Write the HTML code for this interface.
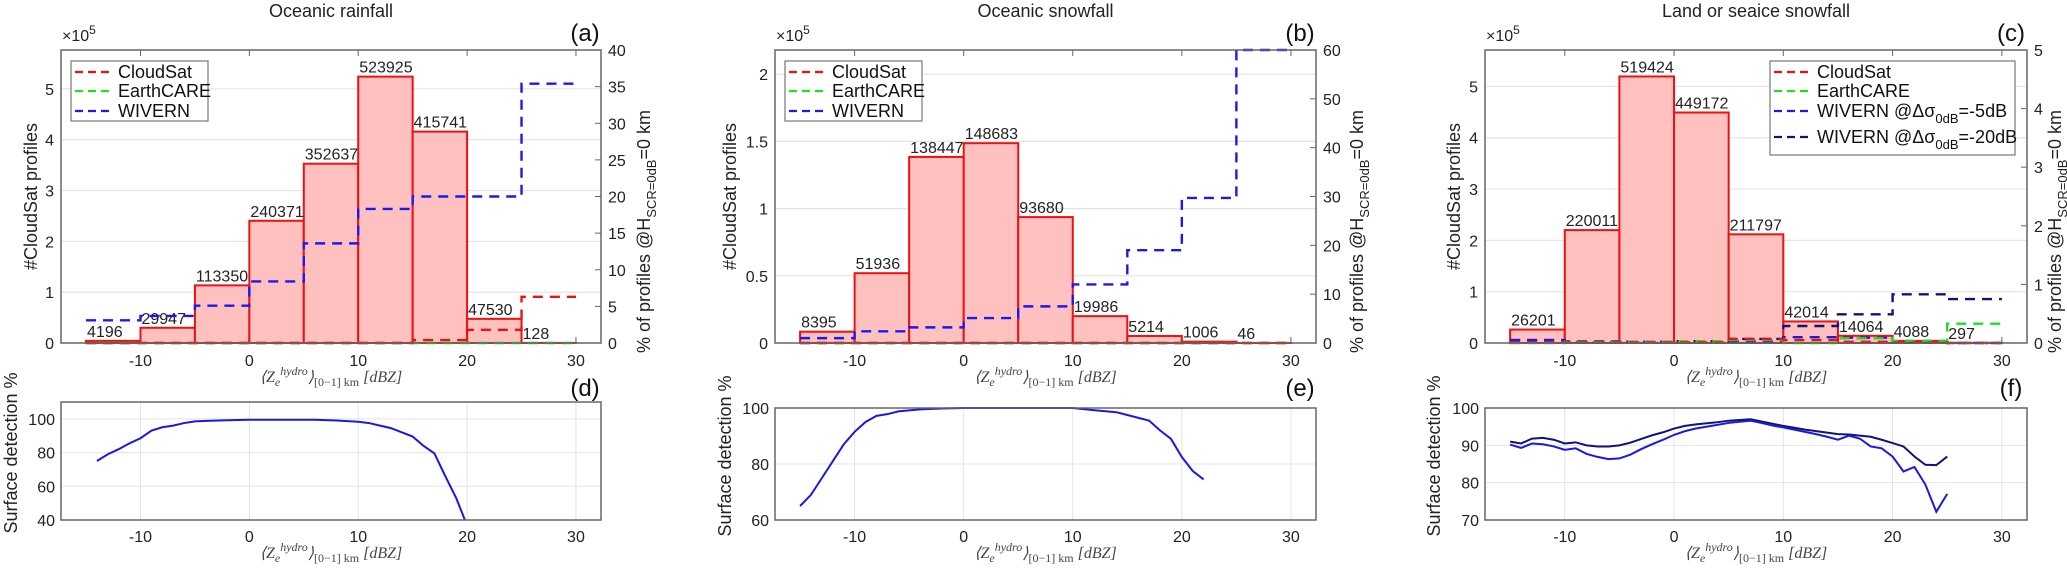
<!DOCTYPE html>
<html><head><meta charset="utf-8">
<style>
html,body{margin:0;padding:0;background:#fff;}
svg{display:block;font-family:"Liberation Sans",sans-serif;}
.t{font-size:16px;fill:#222;}
.ttl{font-size:18px;fill:#222;}
.lg{font-size:18px;fill:#111;}
.lab{font-size:24px;fill:#111;}
.xl{font-family:"Liberation Serif",serif;font-style:italic;font-size:16px;fill:#444;}
</style></head>
<body>
<svg id="fig" width="2067" height="568" viewBox="0 0 2067 568" xmlns="http://www.w3.org/2000/svg"></svg>
<script>
// ---------- DATA ----------
const binEdges = [-15,-10,-5,0,5,10,15,20,25,30];
const countsA = [4196,29947,113350,240371,352637,523925,415741,47530,128];
const countsB = [8395,51936,138447,148683,93680,19986,5214,1006,46];
const countsC = [26201,220011,519424,449172,211797,42014,14064,4088,297];
const wivernA = [3.1,3.7,5.1,8.4,13.6,18.3,20,20,35.4];
const cloudsatA = [0,0,0,0,0,0,0.4,1.8,6.3];
const earthcareA = [0,0,0,0,0,0,0,0,0];
const wivernB = [1.0,2.4,3.2,5.1,7.5,12,19,29.7,60];
const cloudsatB = [0,0,0,0,0,0,0,0,0];
const earthcareB = [0,0,0,0,0,0,0,0,0];
const wivern5C = [0.05,0.03,0.02,0.02,0.03,0.1,0.09,0.01,0];
const wivern20C = [0.05,0.01,0.02,0.03,0.07,0.29,0.49,0.83,0.75];
const cloudsatC = [0.01,0.01,0.01,0.01,0.07,0.05,0.02,0.01,0];
const earthcareC = [0,0.02,0.02,0.03,0.05,0.0,0.08,0.04,0.33];
const detXD = [-14,-13,-12,-11,-10,-9,-8,-7,-6,-5,-4,-2,0,2,4,6,8,10,11,12,13,14,15,16,17,18,19,19.8];
const detYD = [75,79,82,85.5,88.5,93,95,96,97.5,98.5,98.8,99.2,99.5,99.5,99.5,99.5,99,98.3,97.5,96,94.5,92,89.5,84,79.5,66,53,40];
const detXE = [-15,-14,-13,-12,-11,-10,-9,-8,-7,-6,-4,-2,0,5,10,11,12,14,15,17,18,19,20,21,22];
const detYE = [65,69,75,81,87,91.5,95,97.2,97.8,98.8,99.5,99.8,100,100,100,99.6,99.2,98.5,97.5,95.5,92,89,82.5,77.5,74.5];
const detXF = [-15,-14,-13,-12,-11,-10,-9,-8,-7,-6,-5,-4,-3,-2,-1,0,1,2,3,4,5,6,7,8,9,10,11,12,13,14,15,16,17,18,19,20,21,22,23,24,25];
const detF20 = [91,90.5,91.8,92,91.5,90.5,90.8,90,89.7,89.7,90,90.7,91.7,92.7,93.5,94.5,95.2,95.6,95.9,96.2,96.6,96.8,97,96.4,95.8,95.2,94.7,94.2,93.8,93.4,93,92.9,92.6,92.3,91.5,90.6,89.7,87,84.8,84.7,87];
const detF5 = [90.2,89.3,90.5,90.3,89.7,88.8,89.2,87.7,86.9,86.3,86.5,87.5,89,90.3,91.5,92.8,93.8,94.5,95,95.5,96,96.3,96.6,96,95.3,94.8,94.2,93.6,93,92.3,91.5,92.6,91.8,89.7,89.2,87,83,84.2,79.5,72.2,77];
const xTicks = [-10,0,10,20,30];
const yTicksA = [0,1,2,3,4,5];
const yTicksB = [0,0.5,1,1.5,2];
const yTicksC = [0,1,2,3,4,5];
const rTicksA = [0,5,10,15,20,25,30,35,40];
const rTicksB = [0,10,20,30,40,50,60];
const rTicksC = [0,1,2,3,4,5];
const dTicksD = [40,60,80,100];
const dTicksE = [60,80,100];
const dTicksF = [70,80,90,100];

// ---------- DRAW ----------
const NS="http://www.w3.org/2000/svg";
const svg=document.getElementById('fig');
function mk(tag,attrs,parent,text){
  const e=document.createElementNS(NS,tag);
  for(const k in attrs)e.setAttribute(k,attrs[k]);
  if(text!==undefined)e.textContent=text;
  (parent||svg).appendChild(e);return e;
}
const XMIN=-17.3,XMAX=32.3;
function xlabel(g,cx,y){
  const t=mk('text',{x:cx,y:y,'text-anchor':'middle',class:'xl'},g);
  
  
  t.innerHTML='⟨Z<tspan dy="4" font-size="12">e</tspan><tspan dy="-11" font-size="12">hydro</tspan><tspan dy="7">⟩</tspan><tspan dy="4" font-size="12" font-style="normal">[0−1] km</tspan><tspan dy="-4"> [dBZ]</tspan>';
}
function panel(p){
  const g=mk('g',{});
  
  
  const L=p.left,R=p.right,T=50,B=343;
  const sx=v=>L+(v-XMIN)/(XMAX-XMIN)*(R-L);
  const sy=v=>B-v/p.ymax*(B-T);
  const sr=v=>B-v/p.rmax*(B-T);
  const cx=(L+R)/2;
  const tt=mk('text',{x:cx,y:17,'text-anchor':'middle',class:'ttl'},g,p.title);
  
  
  p.yt.forEach(v=>{mk('line',{x1:L,x2:R,y1:sy(v),y2:sy(v),stroke:'#e4e4e4','stroke-width':1.2},g);
    const t=mk('text',{x:L-7,y:sy(v)+6,'text-anchor':'end',class:'t'},g,String(v));
    });
  p.rt.forEach(v=>{mk('line',{x1:R,x2:R-6,y1:sr(v),y2:sr(v),stroke:'#666'},g);
    const t=mk('text',{x:R+7,y:sr(v)+6,class:'t'},g,String(v));
    });
  xTicks.forEach(v=>{mk('line',{x1:sx(v),x2:sx(v),y1:T,y2:T+6,stroke:'#666'},g);mk('line',{x1:sx(v),x2:sx(v),y1:B,y2:B-6,stroke:'#666'},g);
    const t=mk('text',{x:sx(v),y:B+23,'text-anchor':'middle',class:'t'},g,String(v));
    });
  p.counts.forEach((c,i)=>{
    const x0=sx(binEdges[i]),x1=sx(binEdges[i+1]),y=sy(c/1e5);
    const r=mk('rect',{x:x0,y:y,width:x1-x0,height:B-y,fill:'#ffc0c0',stroke:'#ee1111','stroke-width':2},g);
    
    const t=mk('text',{x:x0+1,y:y-4,class:'t'},g,String(c));
    
  });
  p.series.forEach(s=>{
    let d='';
    s.vals.forEach((v,i)=>{const x0=sx(binEdges[i]),x1=sx(binEdges[i+1]),y=sr(v);d+=(i?'L':'M')+x0+' '+y+'L'+x1+' '+y;});
    const pa=mk('path',{d:d,fill:'none',stroke:s.color,'stroke-width':2.4,'stroke-dasharray':'10,7'},g);
    
  });
  mk('rect',{x:L,y:T,width:R-L,height:B-T,fill:'none',stroke:'#666','stroke-width':1.5},g);
  const sc=mk('text',{x:L+1,y:T-9,class:'t'},g);sc.innerHTML='×10<tspan dy="-7" font-size="12">5</tspan>';
  
  const pl=mk('text',{x:R-16,y:41,'text-anchor':'middle',class:'lab'},g,'('+p.id+')');
  
  const yl=mk('text',{transform:`translate(${p.ylx},${(T+B)/2}) rotate(-90)`,'text-anchor':'middle',class:'ttl'},g,'#CloudSat profiles');
  
  const rl=mk('text',{transform:`translate(${p.rlx},${(T+B)/2+35}) rotate(-90)`,'text-anchor':'middle',class:'ttl'},g);
  rl.innerHTML='% of profiles @H<tspan dy="6" font-size="13">SCR=0dB</tspan><tspan dy="-6">=0 km</tspan>';
  
  xlabel(g,cx,382);
  const lg=mk('g',{},g);
  
  mk('rect',{x:p.lx,y:61,width:p.lw,height:p.series.length>3?94:60,fill:'#fff',stroke:'#777','stroke-width':1.2},lg);
  const ys=[72,91,111,137];
  p.series.slice().reverse().forEach((s,i)=>{
    const y=ys[i];
    mk('line',{x1:p.lx+4,x2:p.lx+43,y1:y,y2:y,stroke:s.color,'stroke-width':2.2,'stroke-dasharray':'8,5'},lg);
    const t=mk('text',{x:p.lx+47,y:y+6,class:'lg'},lg);t.innerHTML=s.label;
    
  });
  const T2=p.t2,B2=520;
  const dy=v=>B2-(v-p.dmin)/(p.dmax-p.dmin)*(B2-T2);
  xTicks.forEach(v=>{mk('line',{x1:sx(v),x2:sx(v),y1:T2,y2:B2,stroke:'#e4e4e4'},g);
    const t=mk('text',{x:sx(v),y:B2+22,'text-anchor':'middle',class:'t'},g,String(v));
    });
  p.dt.forEach(v=>{mk('line',{x1:L,x2:R,y1:dy(v),y2:dy(v),stroke:'#e4e4e4'},g);
    const t=mk('text',{x:L-6,y:dy(v)+6,'text-anchor':'end',class:'t'},g,String(v));
    });
  p.curves.forEach(c=>{
    const pts=c.x.map((v,i)=>sx(v)+','+dy(c.y[i])).join(' ');
    const pl2=mk('polyline',{points:pts,fill:'none',stroke:c.color,'stroke-width':2},g);
    
  });
  mk('rect',{x:L,y:T2,width:R-L,height:B2-T2,fill:'none',stroke:'#666','stroke-width':1.5},g);
  const pl3=mk('text',{x:R-16,y:396,'text-anchor':'middle',class:'lab'},g,'('+p.id2+')');
  
  const yl2=mk('text',{transform:`translate(${p.ylx2},${(T2+B2)/2-8}) rotate(-90)`,'text-anchor':'middle',class:'ttl'},g,'Surface detection %');
  
  xlabel(g,cx,558);
}
panel({id:'a',id2:'d',title:'Oceanic rainfall',left:61,right:601,ymax:5.763,rmax:40,yt:yTicksA,rt:rTicksA,counts:countsA,
  series:[{name:'wivern',vals:wivernA,color:'#1a1aee',label:'WIVERN'},{name:'earthcare',vals:earthcareA,color:'#22dd22',label:'EarthCARE'},{name:'cloudsat',vals:cloudsatA,color:'#ee1111',label:'CloudSat'}],
  lx:71,lw:137,ylx:37,rlx:650,t2:402,dmin:40,dmax:110,dt:dTicksD,curves:[{x:detXD,y:detYD,color:'#1a1add'}],ylx2:17});
panel({id:'b',id2:'e',title:'Oceanic snowfall',left:775,right:1316,ymax:2.18,rmax:60,yt:yTicksB,rt:rTicksB,counts:countsB,
  series:[{name:'wivern',vals:wivernB,color:'#1a1aee',label:'WIVERN'},{name:'earthcare',vals:earthcareB,color:'#22dd22',label:'EarthCARE'},{name:'cloudsat',vals:cloudsatB,color:'#ee1111',label:'CloudSat'}],
  lx:785,lw:137,ylx:736,rlx:1363,t2:408,dmin:60,dmax:100,dt:dTicksE,curves:[{x:detXE,y:detYE,color:'#1a1add'}],ylx2:731});
panel({id:'c',id2:'f',title:'Land or seaice snowfall',left:1485,right:2027,ymax:5.71,rmax:5,yt:yTicksC,rt:rTicksC,counts:countsC,
  series:[{name:'wivern-20db',vals:wivern20C,color:'#12127a',label:'WIVERN @Δσ<tspan dy="6" font-size="13">0dB</tspan><tspan dy="-6">=-20dB</tspan>'},{name:'wivern-5db',vals:wivern5C,color:'#1a1aee',label:'WIVERN @Δσ<tspan dy="6" font-size="13">0dB</tspan><tspan dy="-6">=-5dB</tspan>'},{name:'earthcare',vals:earthcareC,color:'#22dd22',label:'EarthCARE'},{name:'cloudsat',vals:cloudsatC,color:'#ee1111',label:'CloudSat'}],
  lx:1770,lw:245,ylx:1460,rlx:2061,t2:408,dmin:70,dmax:100,dt:dTicksF,curves:[{x:detXF,y:detF20,color:'#12127a'},{x:detXF,y:detF5,color:'#1a1add'}],ylx2:1440});
</script>
</body></html>
